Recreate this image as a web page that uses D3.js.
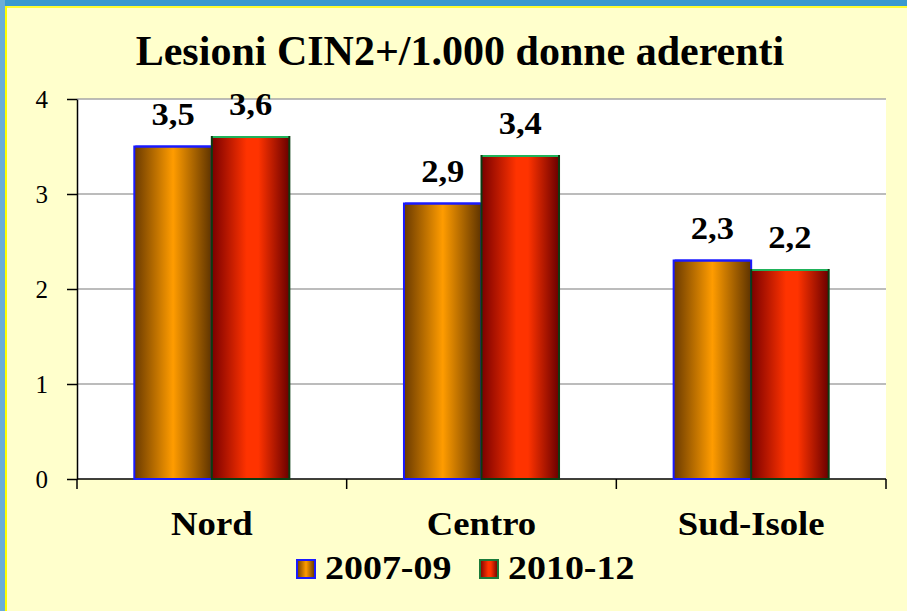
<!DOCTYPE html>
<html>
<head>
<meta charset="utf-8">
<script src="https://cdn.jsdelivr.net/npm/d3@7"></script>
<style>
  body { margin: 0; background: #FFFFCC; }
</style>
</head>
<body>
<div id="chart"></div>
<script>
// data
var regions = ["Nord", "Centro", "Sud-Isole"];
var periods = ["2007-09", "2010-12"];
var values2007 = [3.5, 2.9, 2.3];
var values2010 = [3.6, 3.4, 2.2];
var yTicks = [0, 1, 2, 3, 4];
var chartTitle = "Lesioni CIN2+/1.000 donne aderenti";

var FONT = "'Liberation Serif', 'Times New Roman', serif";
var W = 907, H = 611;
var margin = {top: 99, right: 21, bottom: 132, left: 77},
    width = W - margin.left - margin.right,
    height = H - margin.top - margin.bottom;

var root = d3.select("#chart")
  .append("svg")
    .attr("width", W)
    .attr("height", H)
    .style("font-family", FONT);

// gradients for the bars
var defs = root.append("defs");
function grad(id, stops) {
  var g = defs.append("linearGradient").attr("id", id)
    .attr("x1", "0%").attr("x2", "100%").attr("y1", "0%").attr("y2", "0%");
  stops.forEach(function(s) {
    g.append("stop").attr("offset", s[0]).attr("stop-color", s[1]);
  });
}
grad("gOrange", [["0%", "#6a3a00"], ["50%", "#ff9c00"], ["100%", "#5e3300"]]);
grad("gRed", [["0%", "#7a0000"], ["45%", "#ff3300"], ["60%", "#ff3300"], ["100%", "#6a0000"]]);

// background + border
root.append("rect").attr("width", W).attr("height", H).attr("fill", "#FFFFCC");
root.append("rect").attr("x", 0).attr("y", 0).attr("width", W).attr("height", 6).attr("fill", "#3a9ad0");
root.append("rect").attr("x", 0).attr("y", 6).attr("width", W).attr("height", 2).attr("fill", "#ffff33");
root.append("rect").attr("x", 0).attr("y", 0).attr("width", 5).attr("height", H).attr("fill", "#6aaed8");
root.append("rect").attr("x", 5).attr("y", 6).attr("width", 2).attr("height", H).attr("fill", "#ffff00");

// title
root.append("text")
  .attr("transform", "translate(460,65)")
  .attr("text-anchor", "middle")
  .style("font-size", "42px")
  .style("font-weight", "bold")
  .text(chartTitle);

var svg = root.append("g")
  .attr("transform", "translate(" + margin.left + "," + margin.top + ")");

// plot area
svg.append("rect").attr("width", width).attr("height", height).attr("fill", "#ffffff");

var x = d3.scaleBand().domain(regions).range([0, width]).paddingInner(0).paddingOuter(0);
var x1 = d3.scaleBand().domain(periods).range([0, x.bandwidth() * 0.575]);
var offset = x.bandwidth() * (1 - 0.575) / 2;

var y = d3.scaleLinear().domain([0, 4]).range([height, 0]);

// gridlines
svg.append("g")
  .selectAll("line")
  .data(yTicks.slice(1))
  .enter().append("line")
    .attr("x1", 0).attr("x2", width)
    .attr("y1", function(d) { return y(d); })
    .attr("y2", function(d) { return y(d); })
    .attr("stroke", "#a6a6a6")
    .attr("stroke-width", 1.5);

// y axis
var yAxis = svg.append("g")
  .call(d3.axisLeft(y).tickValues(yTicks).tickSize(10).tickSizeOuter(0).tickFormat(d3.format("d")));
yAxis.attr("font-family", null).attr("font-size", null);
yAxis.select(".domain").attr("stroke", "#000").attr("stroke-width", 1.5);
yAxis.selectAll(".tick line").attr("stroke", "#000").attr("stroke-width", 1.5);
yAxis.selectAll(".tick text")
  .attr("x", -29)
  .attr("dy", "0.35em")
  .style("font-size", "25px")
  .style("font-family", FONT)
  .attr("fill", "#000");

// bottom axis
var xAxis = svg.append("g")
  .attr("transform", "translate(0," + height + ")");
xAxis.append("line").attr("x1", 0).attr("x2", width).attr("stroke", "#000").attr("stroke-width", 1.5);
xAxis.selectAll("line.tk")
  .data(regions.concat(["end"]))
  .enter().append("line")
    .attr("class", "tk")
    .attr("x1", function(d, i) { return i * x.bandwidth(); })
    .attr("x2", function(d, i) { return i * x.bandwidth(); })
    .attr("y1", 0).attr("y2", 10)
    .attr("stroke", "#000").attr("stroke-width", 1.5);
xAxis.selectAll("text")
  .data(regions)
  .enter().append("text")
    .attr("transform", function(d) { return "translate(" + (x(d) + x.bandwidth() / 2) + ",56) scale(1.08,1)"; })
    .attr("text-anchor", "middle")
    .style("font-size", "34px")
    .style("font-weight", "bold")
    .text(function(d) { return d; });

// bars
var series = [
  {key: periods[0], values: values2007, fill: "url(#gOrange)", stroke: "#1a1aff", top: "#1a1aff", legendStroke: "#1a1aff"},
  {key: periods[1], values: values2010, fill: "url(#gRed)", stroke: "#0b3d12", top: "#1fb25a", legendStroke: "#1a7a3a"}
];

function rows(s) {
  return s.values.map(function(v, i) { return {s: s, region: regions[i], value: v}; });
}

var groups = svg.append("g").selectAll("g")
  .data(series)
  .enter().append("g");

groups.selectAll("rect")
  .data(rows)
  .enter().append("rect")
    .attr("x", function(d) { return x(d.region) + offset + x1(d.s.key); })
    .attr("y", function(d) { return y(d.value); })
    .attr("width", x1.bandwidth())
    .attr("height", function(d) { return height - y(d.value); })
    .attr("fill", function(d) { return d.s.fill; })
    .attr("stroke", function(d) { return d.s.stroke; })
    .attr("stroke-width", 2);

groups.selectAll("line.top")
  .data(rows)
  .enter().append("line")
    .attr("class", "top")
    .attr("x1", function(d) { return x(d.region) + offset + x1(d.s.key) + 1; })
    .attr("x2", function(d) { return x(d.region) + offset + x1(d.s.key) + x1.bandwidth() - 1; })
    .attr("y1", function(d) { return y(d.value); })
    .attr("y2", function(d) { return y(d.value); })
    .attr("stroke", function(d) { return d.s.top; })
    .attr("stroke-width", 2);

// value labels
groups.selectAll("text")
  .data(rows)
  .enter().append("text")
    .attr("transform", function(d) {
      return "translate(" + (x(d.region) + offset + x1(d.s.key) + x1.bandwidth() / 2) + "," + (y(d.value) - 22) + ") scale(1.08,1)";
    })
    .attr("text-anchor", "middle")
    .style("font-size", "32px")
    .style("font-weight", "bold")
    .text(function(d) { return d3.format(".1f")(d.value).replace(".", ","); });

// legend
var legend = root.append("g").attr("transform", "translate(297,560)");
var lx = [0, 183];
series.forEach(function(s, i) {
  legend.append("rect")
    .attr("x", lx[i]).attr("y", 0)
    .attr("width", 18).attr("height", 18)
    .attr("fill", s.fill)
    .attr("stroke", s.legendStroke)
    .attr("stroke-width", 2);
  legend.append("text")
    .attr("transform", "translate(" + (lx[i] + 28) + ",19) scale(1.15,1)")
    .style("font-size", "33px")
    .style("font-weight", "bold")
    .text(s.key);
});
</script>
</body>
</html>
